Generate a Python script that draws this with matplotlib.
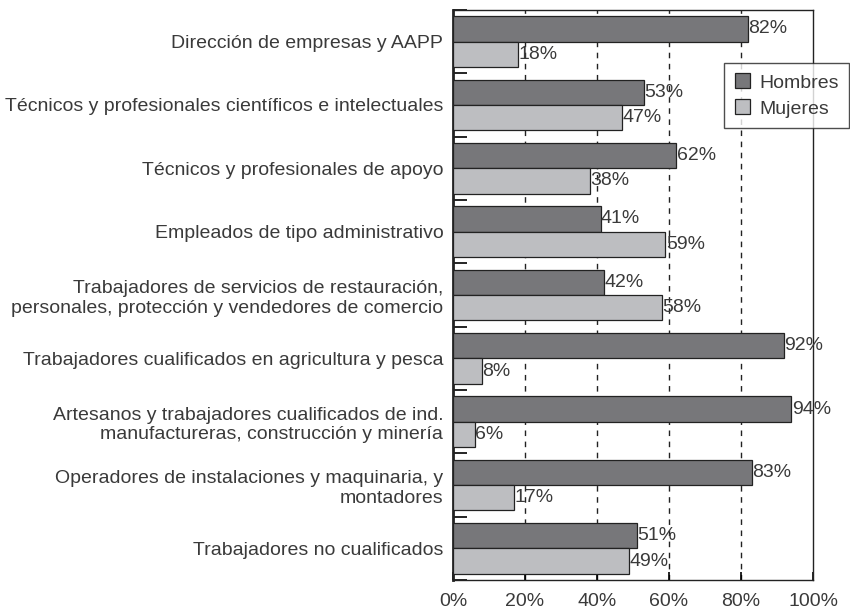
import matplotlib
matplotlib.use("Agg")
import matplotlib.pyplot as plt
import numpy as np

plt.rcParams["font.family"] = ["Liberation Sans", "DejaVu Sans"]

categories = [
    "Dirección de empresas y AAPP",
    "Técnicos y profesionales científicos e intelectuales",
    "Técnicos y profesionales de apoyo",
    "Empleados de tipo administrativo",
    "Trabajadores de servicios de restauración,\npersonales, protección y vendedores de comercio",
    "Trabajadores cualificados en agricultura y pesca",
    "Artesanos y trabajadores cualificados de ind.\nmanufactureras, construcción y minería",
    "Operadores de instalaciones y maquinaria, y\nmontadores",
    "Trabajadores no cualificados",
]
hombres = [82, 53, 62, 41, 42, 92, 94, 83, 51]
mujeres = [18, 47, 38, 59, 58, 8, 6, 17, 49]
xticks = [0, 20, 40, 60, 80, 100]

c_h = "#77777a"
c_m = "#bdbec1"
txt = "#3a3a3a"
fs = 14

fig = plt.figure(figsize=(8.5, 6.09), dpi=100)
ax = fig.add_axes([0.533, 0.0476, 0.4235, 0.936])

y = np.arange(len(categories))
h = 0.4
ax.barh(y - h / 2, hombres, height=h, color=c_h, edgecolor="#222222",
        linewidth=0.9, label="Hombres", zorder=3)
ax.barh(y + h / 2, mujeres, height=h, color=c_m, edgecolor="#222222",
        linewidth=0.9, label="Mujeres", zorder=3)

for yi, v in zip(y, hombres):
    ax.text(v + 0.1, yi - h / 2, f"{v}%", va="center", ha="left",
            fontsize=fs, color=txt, zorder=4)
for yi, v in zip(y, mujeres):
    ax.text(v + 0.1, yi + h / 2, f"{v}%", va="center", ha="left",
            fontsize=fs, color=txt, zorder=4)

ax.set_xlim(0, 100)
ax.set_ylim(len(categories) - 0.5, -0.5)

ax.set_xticks(xticks)
ax.set_xticklabels([f"{t}%" for t in xticks], fontsize=fs, color=txt)
ax.tick_params(axis="x", direction="in", length=6, width=1.2, pad=9)

ax.set_yticks(y)
ax.set_yticklabels(categories, fontsize=fs, color=txt, linespacing=1.2)
ax.tick_params(axis="y", which="major", length=0, pad=7)
ax.set_yticks(np.arange(len(categories) + 1) - 0.5, minor=True)
ax.tick_params(axis="y", which="minor", direction="in", length=10, width=1.2)

for t in xticks[1:-1]:
    ax.axvline(t, color="#222222", linestyle=(0, (4, 4)), linewidth=1.0, zorder=1)

for s in ax.spines.values():
    s.set_color("#222222")
    s.set_linewidth(1.0)
ax.spines["left"].set_linewidth(2.0)

leg = fig.legend(loc="upper right", bbox_to_anchor=(0.999, 0.897),
                 fontsize=fs, frameon=True, fancybox=False,
                 handlelength=0.8, handleheight=0.8, handletextpad=0.45,
                 borderpad=0.55, labelspacing=0.4, borderaxespad=0)
leg.get_frame().set_edgecolor("#222222")
leg.get_frame().set_linewidth(1.0)
for t in leg.get_texts():
    t.set_color(txt)

fig.savefig("out.png", dpi=100)
